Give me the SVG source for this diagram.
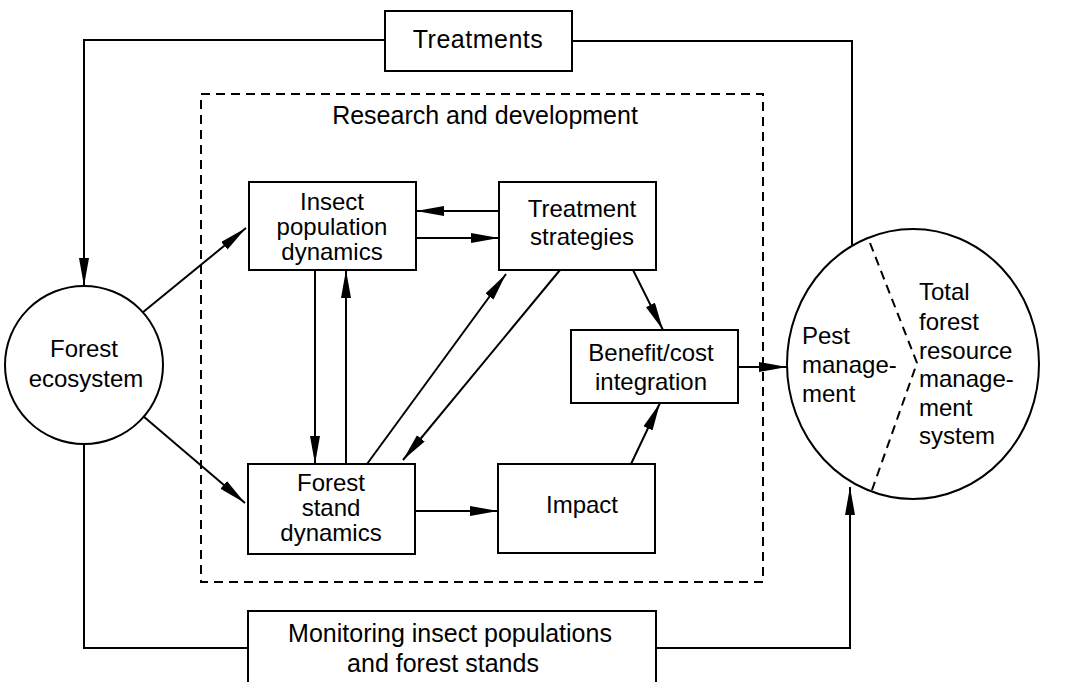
<svg xmlns="http://www.w3.org/2000/svg" width="1065" height="682" viewBox="0 0 1065 682">
<defs>
<marker id="ah" markerUnits="userSpaceOnUse" markerWidth="30" markerHeight="12" refX="28" refY="5" orient="auto">
<path d="M0,0 L28,5 L0,10 z" fill="#000"/>
</marker>
<style>
.box{fill:#fff;stroke:#000;stroke-width:2}
.ln{fill:none;stroke:#000;stroke-width:2}
.ar{fill:none;stroke:#000;stroke-width:2;marker-end:url(#ah)}
.dash{fill:none;stroke:#000;stroke-width:2;stroke-dasharray:9,6}
text{font-family:"Liberation Sans",Arial,sans-serif;font-size:24px;fill:#000}
.big{font-size:25px}
.c{text-anchor:middle}
</style>
</defs>
<rect width="1065" height="682" fill="#fff"/>
<g id="rnd">
<rect class="dash" x="201" y="94" width="562" height="488"/>
<text class="c big" x="485" y="124">Research and development</text>
</g>
<g id="connectors">
<polyline class="ar" points="385,40 84,40 84,286"/>
<polyline class="ln" points="572,41 852,41 852,246"/>
<polyline class="ln" points="84,444 84,648 248,648"/>
<polyline class="ar" points="656,648 850,648 850,487"/>
<line class="ar" x1="142" y1="313" x2="246" y2="228"/>
<line class="ar" x1="143" y1="416" x2="245" y2="503"/>
<line class="ar" x1="499" y1="211" x2="416" y2="211"/>
<line class="ar" x1="416" y1="238" x2="499" y2="238"/>
<line class="ar" x1="315" y1="270" x2="315" y2="464"/>
<line class="ar" x1="346" y1="464" x2="346" y2="270"/>
<line class="ar" x1="367" y1="464" x2="506" y2="274"/>
<line class="ar" x1="560" y1="270" x2="403" y2="460"/>
<line class="ar" x1="633" y1="270" x2="663" y2="330"/>
<line class="ar" x1="631" y1="464" x2="660" y2="403"/>
<line class="ar" x1="415" y1="511" x2="498" y2="511"/>
<line class="ar" x1="738" y1="367" x2="787" y2="367"/>
</g>
<g id="treatments">
<rect class="box" x="385" y="11" width="187" height="60"/>
<text class="c big" x="478" y="48" letter-spacing="0.5">Treatments</text>
</g>
<g id="forest-ecosystem">
<circle class="box" cx="84" cy="365" r="79"/>
<text class="c" x="84" y="357">Forest</text>
<text class="c" x="86" y="387">ecosystem</text>
</g>
<g id="insect">
<rect class="box" x="249" y="182" width="167" height="88"/>
<text class="c" x="332" y="210">Insect</text>
<text class="c" x="332" y="235">population</text>
<text class="c" x="332" y="260">dynamics</text>
</g>
<g id="treatment-strategies">
<rect class="box" x="499" y="182" width="157" height="88"/>
<text class="c" x="582" y="217">Treatment</text>
<text class="c" x="582" y="245">strategies</text>
</g>
<g id="forest-stand">
<rect class="box" x="248" y="464" width="167" height="90"/>
<text class="c" x="331" y="491">Forest</text>
<text class="c" x="331" y="516">stand</text>
<text class="c" x="331" y="541">dynamics</text>
</g>
<g id="impact">
<rect class="box" x="498" y="464" width="157" height="89"/>
<text class="c" x="582" y="513">Impact</text>
</g>
<g id="benefit">
<rect class="box" x="571" y="330" width="167" height="73"/>
<text class="c" x="651" y="361">Benefit/cost</text>
<text class="c" x="651" y="390">integration</text>
</g>
<g id="management">
<ellipse class="box" cx="913" cy="364" rx="126" ry="135"/>
<polyline class="dash" points="870,243 917,363 872,490"/>
<text x="802" y="344">Pest</text>
<text x="802" y="373">manage-</text>
<text x="802" y="402">ment</text>
<text x="919" y="300">Total</text>
<text x="919" y="330">forest</text>
<text x="919" y="359">resource</text>
<text x="919" y="387">manage-</text>
<text x="919" y="416">ment</text>
<text x="919" y="444">system</text>
</g>
<g id="monitoring">
<rect class="box" x="248" y="611" width="408" height="90"/>
<text class="c big" x="450" y="642">Monitoring insect populations</text>
<text class="c big" x="443" y="672">and forest stands</text>
</g>
</svg>
